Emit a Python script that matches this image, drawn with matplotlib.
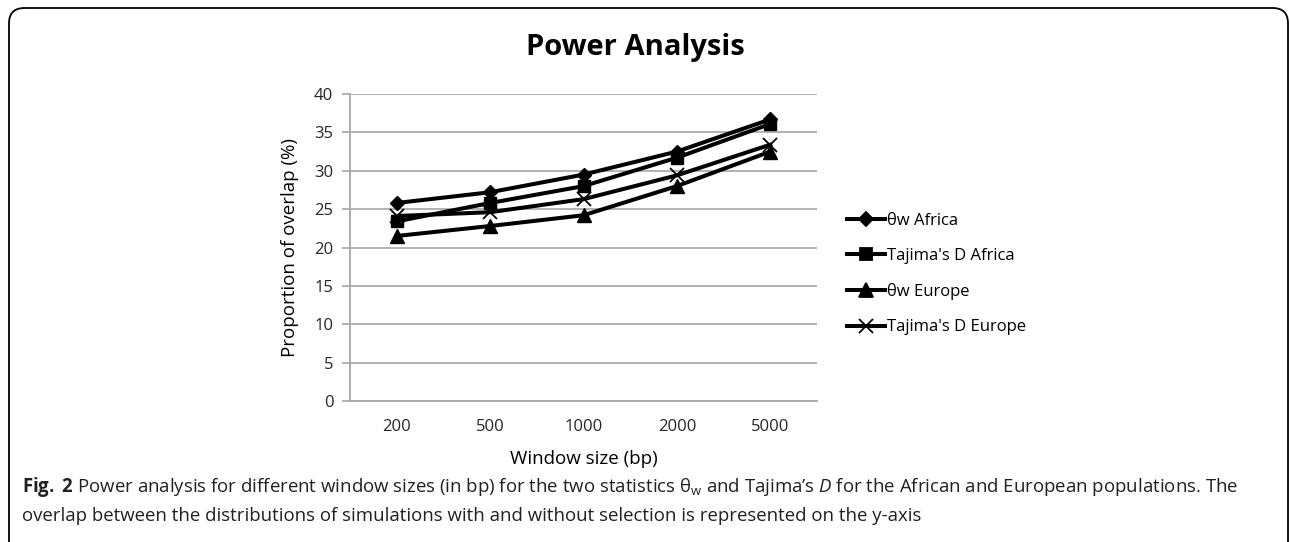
import matplotlib
matplotlib.use("Agg")
import matplotlib.pyplot as plt
from matplotlib.patches import FancyBboxPatch
from matplotlib.lines import Line2D

categories = ["200", "500", "1000", "2000", "5000"]
theta_africa = [25.8, 27.2, 29.5, 32.5, 36.7]
tajima_africa = [23.4, 25.8, 28.0, 31.7, 36.1]
theta_europe = [21.5, 22.8, 24.2, 28.0, 32.5]
tajima_europe = [24.1, 24.6, 26.3, 29.4, 33.4]
series_names = ["θw Africa", "Tajima's D Africa", "θw Europe", "Tajima's D Europe"]
y_ticks = [0, 5, 10, 15, 20, 25, 30, 35, 40]

FONT = "Open Sans"
CAP = "Open Sans"
plt.rcParams["mathtext.fontset"] = "custom"
plt.rcParams["mathtext.rm"] = CAP
plt.rcParams["mathtext.it"] = CAP + ":italic"
plt.rcParams["mathtext.bf"] = CAP + ":bold"

fig = plt.figure(figsize=(12.9, 5.42), dpi=100)
W, H = 1290, 542

def fx(x):
    return x / W

def fy(y):
    return 1 - y / H

# rounded frame
frame = FancyBboxPatch((fx(9), fy(600)), fx(1279), fy(8) - fy(600),
                       boxstyle="round,pad=0,rounding_size=0.012",
                       transform=fig.transFigure, fill=False, edgecolor="black",
                       linewidth=1.3, mutation_aspect=W / H)
fig.patches.append(frame)

ax = fig.add_axes([fx(350), fy(401), fx(817) - fx(350), fy(94) - fy(401)])
x = list(range(len(categories)))
gray = "#a6a6a6"
lw = 2.9
ax.plot(x, theta_africa, color="black", lw=lw, marker="D", ms=7.5, zorder=3)
ax.plot(x, tajima_africa, color="black", lw=lw, marker="s", ms=9, zorder=3)
ax.plot(x, theta_europe, color="black", lw=lw, marker="^", ms=10, zorder=3)
ax.plot(x, tajima_europe, color="black", lw=lw, marker="x", ms=10, mew=1.3, zorder=3)

ax.set_xlim(-0.5, len(categories) - 0.5)
ax.set_ylim(0, 40)
ax.set_yticks(y_ticks)
ax.set_yticklabels([str(t) for t in y_ticks], fontsize=12, family=FONT, color="#262626")
ax.set_xticks(x)
ax.set_xticklabels(categories, fontsize=12, family=FONT, color="#262626")
ax.tick_params(axis="x", length=0, pad=13)
ax.tick_params(axis="y", length=6, width=1.2, color=gray, pad=6)
ax.grid(axis="y", color=gray, lw=1.2)
ax.set_axisbelow(True)
for s in ["top", "right"]:
    ax.spines[s].set_visible(False)
for s in ["left", "bottom"]:
    ax.spines[s].set_color(gray)
    ax.spines[s].set_linewidth(1.3)

ax.set_ylabel("Proportion of overlap (%)", fontsize=13.5, family=FONT, labelpad=11)
ax.set_xlabel("Window size (bp)", fontsize=13.5, family=FONT, labelpad=11)

fig.text(fx(635), fy(47), "Power Analysis", ha="center", va="center",
         fontsize=21, fontweight="bold", family=FONT)

markers = ["D", "s", "^", "x"]
sizes = [7.5, 9, 10, 10]
handles = [Line2D([0], [0], color="black", lw=lw, marker=m, ms=s, mew=1.3)
           for m, s in zip(markers, sizes)]
leg = fig.legend(handles, series_names, loc="upper left",
                 bbox_to_anchor=(fx(832), fy(198)), frameon=False,
                 prop={"family": FONT, "size": 12}, labelspacing=1.15,
                 handlelength=2.3, handletextpad=0.12)

cap1 = (r"$\mathbf{Fig.}$ $\mathbf{2}$ Power analysis for different window sizes (in bp) for the two statistics "
        r"θ$_\mathrm{w}$ and Tajima’s $\mathit{D}$ for the African and European populations. The")
cap2 = "overlap between the distributions of simulations with and without selection is represented on the y-axis"
t1 = fig.text(fx(22), fy(492), cap1, ha="left", va="baseline", fontsize=14, family=CAP, color="#231f20")
t2 = fig.text(fx(22), fy(521), cap2, ha="left", va="baseline", fontsize=14, family=CAP, color="#231f20")

# fit caption line width to the reference layout
r = fig.canvas.get_renderer()
w1 = t1.get_window_extent(r).width
fs = 14 * (1241 - 22) / w1
t1.set_fontsize(fs)
t2.set_fontsize(fs)

fig.savefig("out.png", dpi=100)
